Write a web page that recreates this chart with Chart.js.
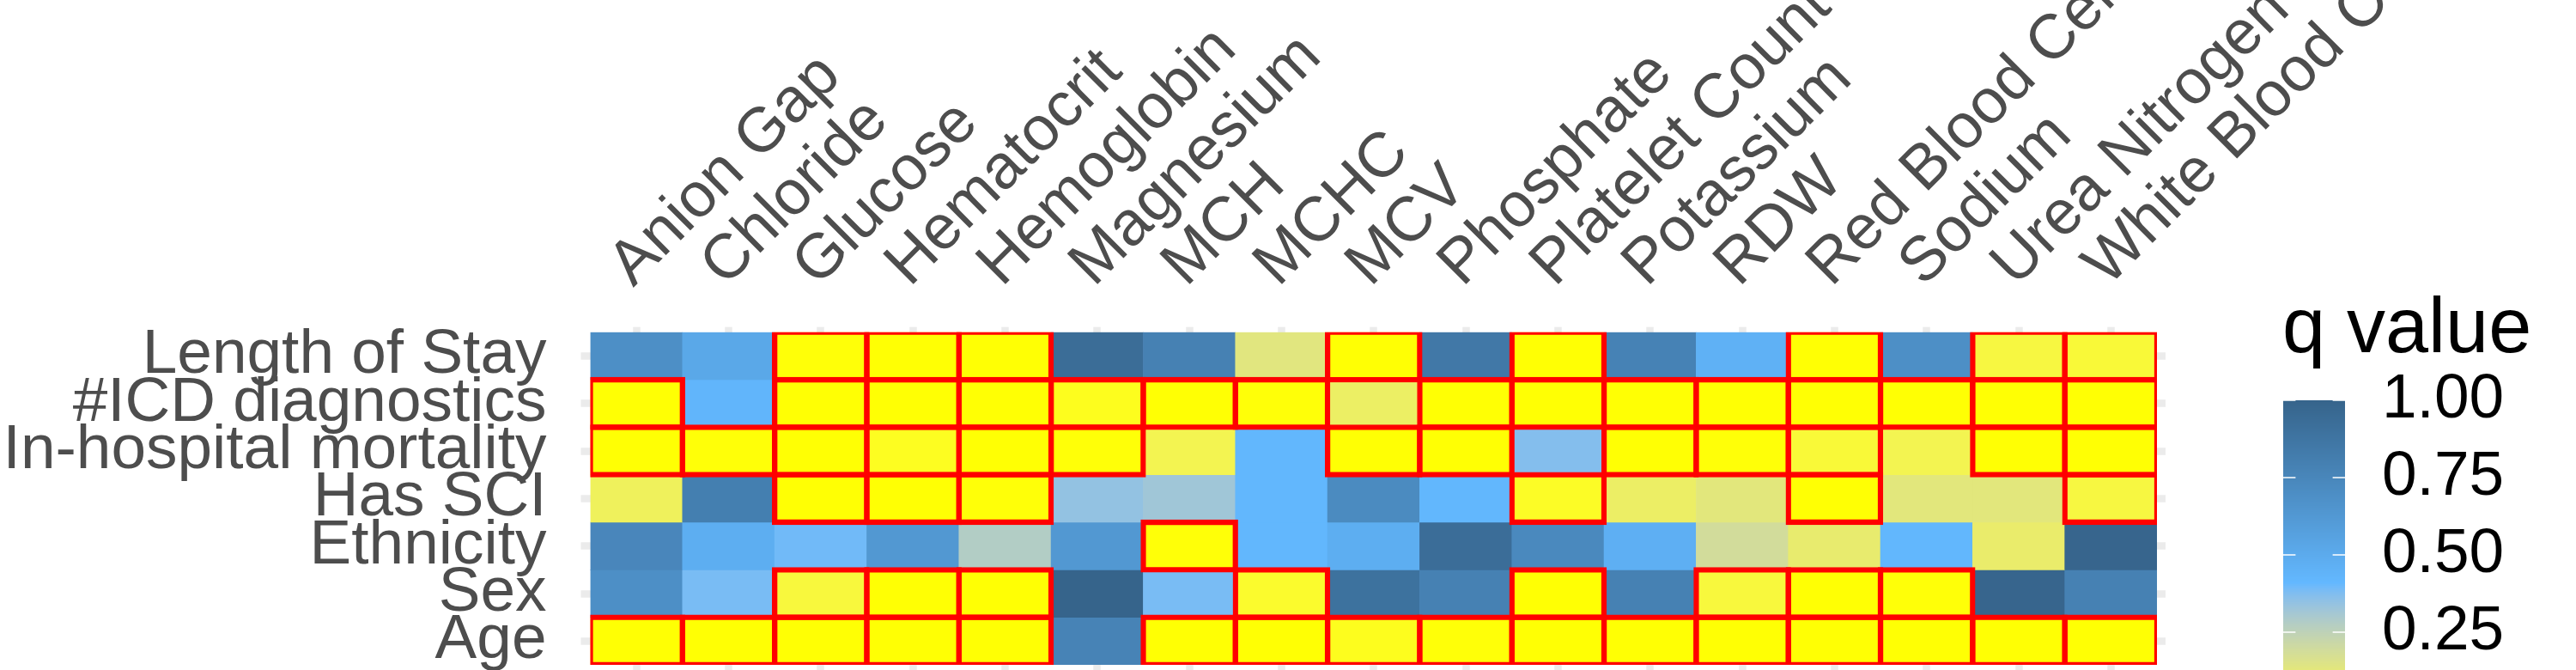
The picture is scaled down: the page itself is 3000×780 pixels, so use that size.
<!DOCTYPE html>
<html>
<head>
<meta charset="utf-8">
<script src="https://cdn.jsdelivr.net/npm/chart.js@4.4.1/dist/chart.umd.min.js"></script>
<style>
  html, body { margin: 0; padding: 0; background: #ffffff; }
  #wrap { width: 3000px; height: 780px; }
</style>
</head>
<body>
<div id="wrap"><canvas id="c" width="3000" height="780"></canvas></div>
<script>
// ---------------- DATA ----------------
const colLabels = ["Anion Gap", "Chloride", "Glucose", "Hematocrit", "Hemoglobin", "Magnesium", "MCH", "MCHC", "MCV",
  "Phosphate", "Platelet Count", "Potassium", "RDW", "Red Blood Cells", "Sodium", "Urea Nitrogen", "White Blood Cells"];

const rowLabels = ["Length of Stay", "#ICD diagnostics", "In-hospital mortality", "Has SCI", "Ethnicity", "Sex", "Age"];

// q values (one array per outcome row, in colLabels order)
const qLengthOfStay = [0.69, 0.52, 0.002, 0.001, 0.001, 0.935, 0.79, 0.135, 0.001, 0.85, 0.001, 0.78, 0.46, 0.001, 0.69, 0.040, 0.030];
const qIcdDiagnostics = [0.001, 0.43, 0.001, 0.001, 0.001, 0.010, 0.001, 0.002, 0.088, 0.001, 0.001, 0.001, 0.001, 0.001, 0.001, 0.001, 0.001];
const qMortality = [0.001, 0.002, 0.001, 0.012, 0.001, 0.002, 0.060, 0.42, 0.001, 0.001, 0.37, 0.001, 0.002, 0.030, 0.060, 0.001, 0.001];
const qHasSCI = [0.075, 0.805, 0.001, 0.001, 0.002, 0.345, 0.32, 0.42, 0.72, 0.42, 0.015, 0.090, 0.13, 0.001, 0.13, 0.13, 0.040];
const qEthnicity = [0.75, 0.48, 0.395, 0.63, 0.28, 0.63, 0.002, 0.42, 0.48, 0.93, 0.73, 0.47, 0.19, 0.105, 0.42, 0.10, 0.99];
const qSex = [0.69, 0.385, 0.035, 0.001, 0.001, 1.00, 0.385, 0.020, 0.90, 0.79, 0.001, 0.79, 0.035, 0.001, 0.002, 0.99, 0.79];
const qAge = [0.001, 0.001, 0.001, 0.001, 0.001, 0.775, 0.001, 0.001, 0.010, 0.002, 0.001, 0.001, 0.001, 0.001, 0.001, 0.001, 0.001];

const qRows = [qLengthOfStay, qIcdDiagnostics, qMortality, qHasSCI, qEthnicity, qSex, qAge];

const sigThreshold = 0.05;
const legendTitle = "q value";
const legendBreaks = [1.00, 0.75, 0.50, 0.25];
const legendBreakLabels = ["1.00", "0.75", "0.50", "0.25"];

// ---------------- COLOUR SCALE (Lab interpolation) ----------------
const colourStops = [[0, "#FFFF00"], [0.41, "#63B8FF"], [1, "#36648B"]];

function hexToRgb(h) { h = h.replace('#', ''); return [parseInt(h.substr(0, 2), 16), parseInt(h.substr(2, 2), 16), parseInt(h.substr(4, 2), 16)]; }
function s2l(c) { c /= 255; return c <= 0.04045 ? c / 12.92 : Math.pow((c + 0.055) / 1.055, 2.4); }
function l2s(c) { c = c <= 0.0031308 ? 12.92 * c : 1.055 * Math.pow(c, 1 / 2.4) - 0.055; return Math.round(Math.max(0, Math.min(1, c)) * 255); }
function rgbToLab(rgb) {
  const R = s2l(rgb[0]), G = s2l(rgb[1]), B = s2l(rgb[2]);
  const X = (0.4124 * R + 0.3576 * G + 0.1805 * B) / 0.95047;
  const Y = (0.2126 * R + 0.7152 * G + 0.0722 * B);
  const Z = (0.0193 * R + 0.1192 * G + 0.9505 * B) / 1.08883;
  const f = t => t > 0.008856 ? Math.cbrt(t) : 7.787 * t + 16 / 116;
  const fx = f(X), fy = f(Y), fz = f(Z);
  return [116 * fy - 16, 500 * (fx - fy), 200 * (fy - fz)];
}
function labToRgb(lab) {
  const fy = (lab[0] + 16) / 116, fx = fy + lab[1] / 500, fz = fy - lab[2] / 200;
  const fi = t => t > 0.206893 ? t * t * t : (t - 16 / 116) / 7.787;
  const X = fi(fx) * 0.95047, Y = fi(fy), Z = fi(fz) * 1.08883;
  const R = 3.2406 * X - 1.5372 * Y - 0.4986 * Z;
  const G = -0.9689 * X + 1.8758 * Y + 0.0415 * Z;
  const B = 0.0557 * X - 0.2040 * Y + 1.0570 * Z;
  return [l2s(R), l2s(G), l2s(B)];
}
const labStops = colourStops.map(s => [s[0], rgbToLab(hexToRgb(s[1]))]);
function colorAt(q) {
  q = Math.max(0, Math.min(1, q));
  let i = 0;
  while (i < labStops.length - 2 && q > labStops[i + 1][0]) i++;
  const a = labStops[i], b = labStops[i + 1];
  const t = (q - a[0]) / (b[0] - a[0]);
  const lab = [0, 1, 2].map(k => a[1][k] + (b[1][k] - a[1][k]) * t);
  const c = labToRgb(lab);
  return `rgb(${c[0]},${c[1]},${c[2]})`;
}

// ---------------- STYLE ----------------
const FONT = '"Liberation Sans", Arial, Helvetica, sans-serif';
const AXIS_GREY = '#4D4D4D';
const GRID_GREY = '#EBEBEB';
const outlinePad = 0.057;      // outline extends half its width beyond the tile (in row units)
const outlineBarPct = 1.0587;  // same, along the columns

// ---------------- DATASETS ----------------
const datasets = [];
qRows.forEach((row, r) => {
  datasets.push({
    label: rowLabels[r],
    data: row.map(() => [r, r + 1]),
    backgroundColor: row.map(colorAt),
    borderWidth: 0,
    grouped: false,
    barPercentage: 1,
    categoryPercentage: 1,
    order: 2
  });
});
qRows.forEach((row, r) => {
  datasets.push({
    label: rowLabels[r] + ' (q < 0.05)',
    data: row.map(q => q < sigThreshold ? [r - outlinePad, r + 1 + outlinePad] : null),
    backgroundColor: 'rgba(0,0,0,0)',
    borderColor: '#FF0000',
    borderWidth: 6.3,
    borderSkipped: false,
    grouped: false,
    barPercentage: outlineBarPct,
    categoryPercentage: 1,
    order: 1
  });
});

// ---------------- LEGEND (colour bar) ----------------
const qLegend = {
  id: 'qLegend',
  afterDraw(chart) {
    const ctx = chart.ctx;
    const x0 = 2659, w = 72, yTop = 466, pxPerUnit = 360;
    ctx.save();
    for (let y = yTop; y < chart.height; y++) {
      const q = 1 - (y + 0.5 - yTop) / pxPerUnit;
      ctx.fillStyle = colorAt(q);
      ctx.fillRect(x0, y, w, 1);
    }
    ctx.strokeStyle = '#FFFFFF';
    ctx.lineWidth = 1.7;
    const tl = w / 5;
    legendBreaks.forEach(b => {
      const y = yTop + (1 - b) * pxPerUnit;
      ctx.beginPath();
      ctx.moveTo(x0, y); ctx.lineTo(x0 + tl, y);
      ctx.moveTo(x0 + w - tl, y); ctx.lineTo(x0 + w, y);
      ctx.stroke();
    });
    ctx.fillStyle = '#000000';
    ctx.textAlign = 'left';
    ctx.textBaseline = 'middle';
    ctx.font = `73px ${FONT}`;
    legendBreaks.forEach((b, i) => {
      ctx.fillText(legendBreakLabels[i], 2774, yTop + (1 - b) * pxPerUnit);
    });
    ctx.textBaseline = 'alphabetic';
    ctx.font = `90px ${FONT}`;
    ctx.fillText(legendTitle, 2658, 410);
    ctx.restore();
  }
};

const rowTicks = axis => { axis.ticks = rowLabels.map((_, i) => ({ value: i + 0.5 })); };
const noPad = s => { s.paddingTop = 0; s.paddingBottom = 0; s.paddingLeft = 0; s.paddingRight = 0; };

new Chart(document.getElementById('c'), {
  type: 'bar',
  data: { labels: colLabels, datasets },
  options: {
    responsive: false,
    maintainAspectRatio: false,
    animation: false,
    events: [],
    devicePixelRatio: 1,
    layout: { padding: { top: 0, left: 0, right: 478, bottom: 0 } },
    plugins: { legend: { display: false }, tooltip: { enabled: false }, title: { display: false } },
    scales: {
      x: {
        type: 'category',
        position: 'top',
        offset: true,
        grid: { display: true, offset: false, drawOnChartArea: false, drawTicks: true, tickLength: 6, tickWidth: 8.5, tickColor: GRID_GREY, color: GRID_GREY },
        border: { display: false },
        ticks: { autoSkip: false, minRotation: 45, maxRotation: 45, padding: 29, labelOffset: 44, color: AXIS_GREY, font: { family: FONT, size: 73 } },
        afterFit: s => { s.height = 386.7; noPad(s); }
      },
      x2: {
        type: 'category',
        labels: colLabels,
        position: 'bottom',
        offset: true,
        grid: { display: true, offset: false, drawOnChartArea: false, drawTicks: true, tickLength: 8, tickWidth: 8.5, tickColor: GRID_GREY, color: GRID_GREY },
        border: { display: false },
        ticks: { display: false, autoSkip: false },
        afterFit: s => { s.height = 6; noPad(s); }
      },
      y: {
        type: 'linear',
        position: 'left',
        reverse: true,
        min: 0,
        max: rowLabels.length,
        afterBuildTicks: rowTicks,
        grid: { display: true, drawOnChartArea: false, drawTicks: true, tickLength: 11, tickWidth: 8.5, tickColor: GRID_GREY, color: GRID_GREY },
        border: { display: false },
        ticks: { autoSkip: false, padding: 40, color: AXIS_GREY, font: { family: FONT, size: 73 }, callback: (v, i) => rowLabels[i] },
        afterFit: s => { s.width = 687.5; noPad(s); }
      },
      y2: {
        type: 'linear',
        position: 'right',
        reverse: true,
        min: 0,
        max: rowLabels.length,
        afterBuildTicks: rowTicks,
        grid: { display: true, drawOnChartArea: false, drawTicks: true, tickLength: 10, tickWidth: 8.5, tickColor: GRID_GREY, color: GRID_GREY },
        border: { display: false },
        ticks: { display: false, autoSkip: false },
        afterFit: s => { s.width = 10; noPad(s); }
      }
    }
  },
  plugins: [qLegend]
});
</script>
</body>
</html>
